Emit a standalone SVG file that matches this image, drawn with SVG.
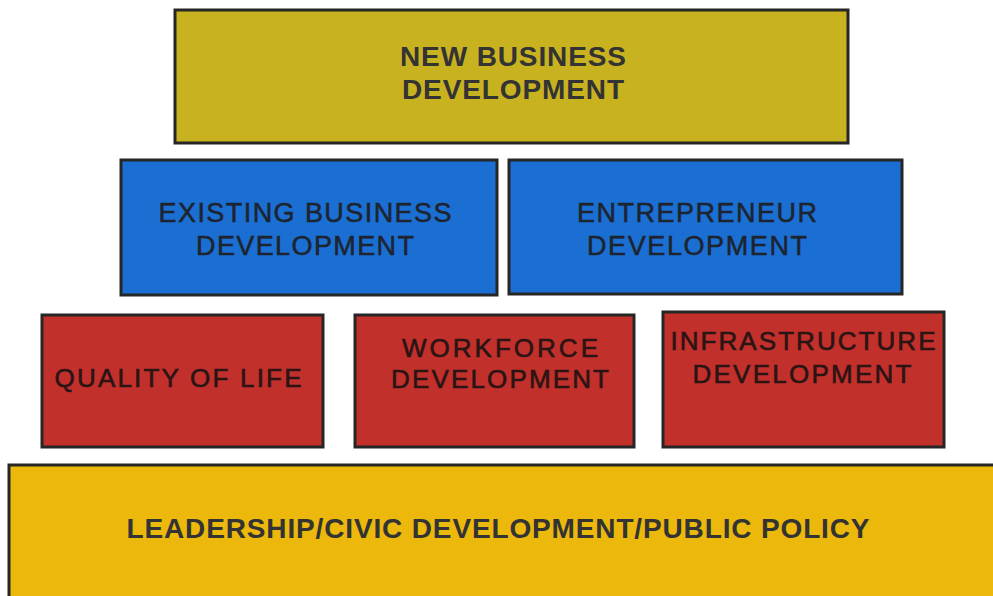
<svg xmlns="http://www.w3.org/2000/svg" width="993" height="596" viewBox="0 0 993 596">
<style>
.box{stroke:#262626;stroke-width:3}
.olive{fill:#c9b21f}
.blue{fill:#1b6fd2}
.red{fill:#c2302b}
.gold{fill:#ebb80b}
text{font-family:"Liberation Sans",Arial,sans-serif;text-anchor:middle;}
.tb{font-weight:bold;font-size:28px;fill:#333333}
.tn{font-size:27px;fill:#1d2430;stroke:#1d2430;stroke-width:0.5}
.tr{font-size:26px;fill:#2a1414;stroke:#2a1414;stroke-width:0.6}
</style>
<rect width="993" height="596" fill="#ffffff"/>
<g id="new-business">
<rect class="box olive" x="175" y="10" width="673" height="133"/>
<text class="tb" x="513" y="66" textLength="226" lengthAdjust="spacing">NEW BUSINESS</text>
<text class="tb" x="513" y="99" textLength="222" lengthAdjust="spacing">DEVELOPMENT</text>
</g>
<g id="existing-business">
<rect class="box blue" x="121" y="160" width="376" height="135"/>
<text class="tn" x="305" y="222" textLength="293" lengthAdjust="spacing">EXISTING BUSINESS</text>
<text class="tn" x="305" y="255" textLength="218" lengthAdjust="spacing">DEVELOPMENT</text>
</g>
<g id="entrepreneur">
<rect class="box blue" x="509" y="160" width="393" height="134"/>
<text class="tn" x="697" y="222" textLength="240" lengthAdjust="spacing">ENTREPRENEUR</text>
<text class="tn" x="697" y="255" textLength="220" lengthAdjust="spacing">DEVELOPMENT</text>
</g>
<g id="quality-of-life">
<rect class="box red" x="42" y="315" width="281" height="132"/>
<text class="tr" x="178" y="387" textLength="247" lengthAdjust="spacing">QUALITY OF LIFE</text>
</g>
<g id="workforce">
<rect class="box red" x="355" y="315" width="279" height="132"/>
<text class="tr" x="500" y="357" textLength="196" lengthAdjust="spacing">WORKFORCE</text>
<text class="tr" x="500" y="388" textLength="218" lengthAdjust="spacing">DEVELOPMENT</text>
</g>
<g id="infrastructure">
<rect class="box red" x="663" y="312" width="281" height="135"/>
<text class="tr" x="803" y="350" textLength="265" lengthAdjust="spacing">INFRASTRUCTURE</text>
<text class="tr" x="802" y="383" textLength="219" lengthAdjust="spacing">DEVELOPMENT</text>
</g>
<g id="leadership">
<rect class="box gold" x="9" y="465" width="1000" height="200"/>
<text class="tb" x="498" y="538" textLength="743" lengthAdjust="spacing">LEADERSHIP/CIVIC DEVELOPMENT/PUBLIC POLICY</text>
</g>
<g id="connectors"></g>
</svg>
